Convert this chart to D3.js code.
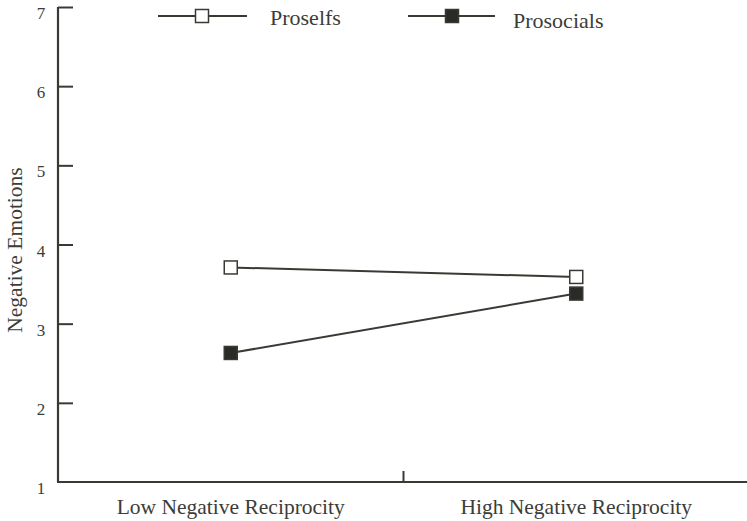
<!DOCTYPE html>
<html><head><meta charset="utf-8">
<script src="https://cdn.jsdelivr.net/npm/d3@7"></script>
<style>body{margin:0;background:#fff}svg{display:block}text{font-family:"Liberation Serif","DejaVu Serif",serif;fill:#3c3c38}</style>
</head><body><div id="chart"></div>
<script>
const categories = ["Low Negative Reciprocity", "High Negative Reciprocity"];
const proselfs = [3.71, 3.59];
const prosocials = [2.63, 3.38];
const yTicks = [1, 2, 3, 4, 5, 6, 7];
const seriesNames = ["Proselfs", "Prosocials"];
const yTitle = "Negative Emotions";

const W = 747, H = 521;
const svg = d3.select("#chart").append("svg").attr("width", W).attr("height", H);
const ink = "#3a3a34";

const x = d3.scalePoint().domain(categories).range([58, 749]).padding(0.5);
const y = d3.scaleLinear().domain([1, 7]).range([482, 7]);

// y axis
const yAxis = d3.axisRight(y).tickValues(yTicks).tickSize(15).tickFormat("");
const gy = svg.append("g").attr("transform", "translate(58,0)").call(yAxis);
gy.select(".domain").attr("d", `M0,${y(7)}V${y(1)}`).attr("stroke", ink).attr("stroke-width", 2.2);
gy.selectAll(".tick line").attr("stroke", ink).attr("stroke-width", 2);
gy.selectAll(".tick").filter(d => d === 1).select("line").remove();
svg.append("g").selectAll("text").data(yTicks).join("text")
  .attr("x", 41).attr("y", d => y(d) + 12).attr("text-anchor", "middle")
  .attr("font-size", 17).text(d => d);

// x axis
svg.append("line").attr("x1", 57).attr("x2", W).attr("y1", y(1)).attr("y2", y(1))
  .attr("stroke", ink).attr("stroke-width", 2.2);
const mid = (x(categories[0]) + x(categories[1])) / 2;
svg.append("line").attr("x1", mid).attr("x2", mid).attr("y1", y(1)).attr("y2", y(1) - 11)
  .attr("stroke", ink).attr("stroke-width", 2);
svg.append("g").selectAll("text").data(categories).join("text")
  .attr("x", d => x(d)).attr("y", 514).attr("text-anchor", "middle")
  .attr("font-size", 21.5).text(d => d);

// y title
svg.append("text").attr("transform", `translate(22,${(167+333)/2}) rotate(-90)`)
  .attr("text-anchor", "middle").attr("font-size", 21.5).text(yTitle);

// series
const series = [
  {name: seriesNames[0], vals: proselfs, fill: "#fff"},
  {name: seriesNames[1], vals: prosocials, fill: "#2a2a28"}
];
const line = d3.line().x((d, i) => x(categories[i])).y(d => y(d));
const s = 13;
series.forEach(sr => {
  svg.append("path").attr("d", line(sr.vals)).attr("fill", "none").attr("stroke", ink).attr("stroke-width", 2);
  svg.append("g").selectAll("rect").data(sr.vals).join("rect")
    .attr("x", (d, i) => x(categories[i]) - s / 2).attr("y", d => y(d) - s / 2)
    .attr("width", s).attr("height", s).attr("fill", sr.fill)
    .attr("stroke", ink).attr("stroke-width", 1.5);
});

// legend
const legend = [
  {x1: 158, x2: 247, cx: 202, tx: 270, ty: 25, fill: "#fff", name: seriesNames[0]},
  {x1: 408, x2: 495, cx: 452, tx: 513, ty: 28, fill: "#2a2a28", name: seriesNames[1]}
];
legend.forEach(l => {
  svg.append("line").attr("x1", l.x1).attr("x2", l.x2).attr("y1", 16).attr("y2", 16)
    .attr("stroke", ink).attr("stroke-width", 2);
  svg.append("rect").attr("x", l.cx - 6.5).attr("y", 16 - 6.5).attr("width", 13).attr("height", 13)
    .attr("fill", l.fill).attr("stroke", ink).attr("stroke-width", 1.5);
  svg.append("text").attr("x", l.tx).attr("y", l.ty).attr("font-size", 22).text(l.name);
});
</script></body></html>
